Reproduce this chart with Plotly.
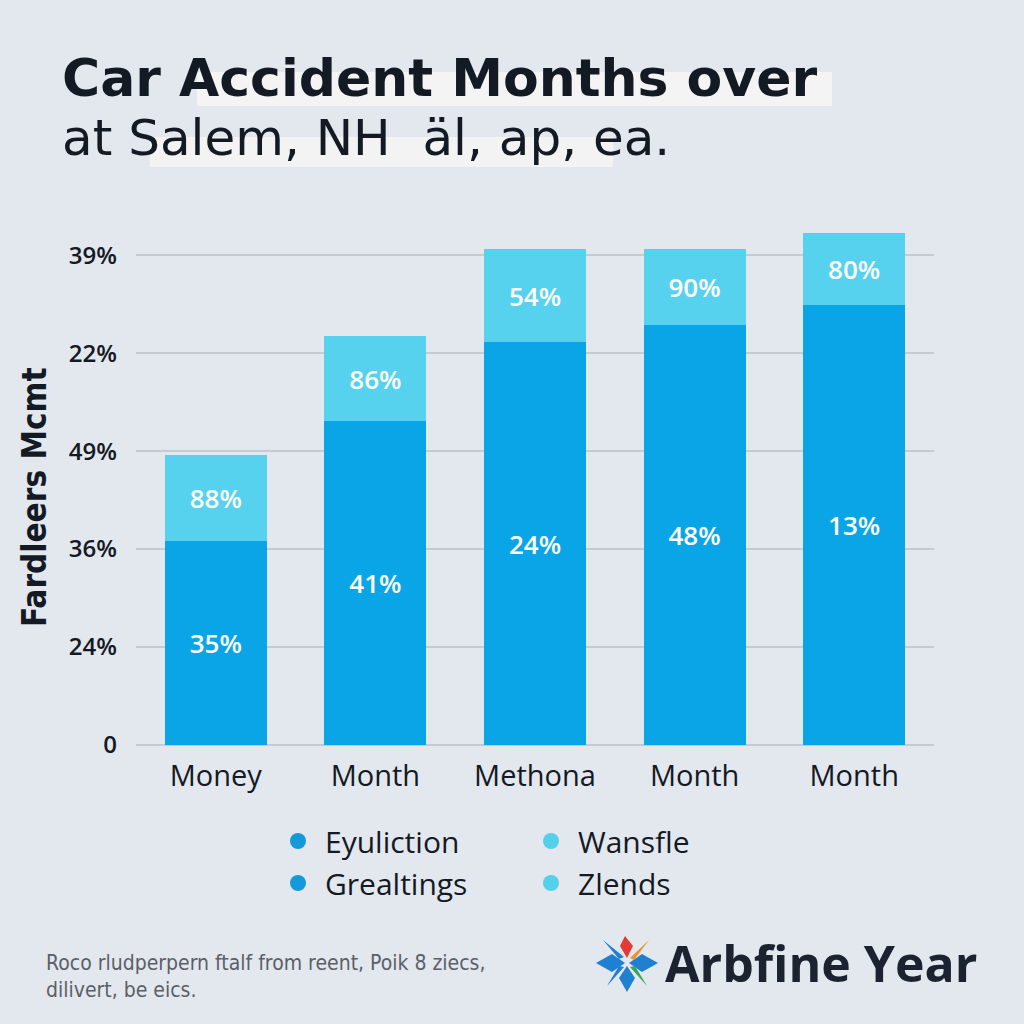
import plotly.graph_objects as go

# ---- data ----
categories = ["Money", "Month", "Methona", "Month", "Month"]
x_pos = [0, 1, 2, 3, 4]
base_values = [2.08, 3.31, 4.11, 4.29, 4.49]
top_values = [0.88, 0.86, 0.95, 0.77, 0.74]
base_labels = ["35%", "41%", "24%", "48%", "13%"]
top_labels = ["88%", "86%", "54%", "90%", "80%"]
y_tickvals = [0, 1, 2, 3, 4, 5]
y_ticktext = ["0", "24%", "36%", "49%", "22%", "39%"]
legend_left = ["Eyuliction", "Grealtings"]
legend_right = ["Wansfle", "Zlends"]

DARK = "#0aa5e6"
LIGHT = "#56d2ef"
BG = "#e3e7ee"
TXT = "#141a24"
FONT = "Open Sans"
WIDE = "DejaVu Sans"
COND = "DejaVu Sans Condensed, Roboto"

W, H = 1024, 1024
ML, MR, MT, MB = 136, 90, 216, 279
PW = W - ML - MR
PH = H - MT - MB


def px(x):
    return (x - ML) / PW


def py(y):
    return (H - MB - y) / PH


fig = go.Figure()
fig.add_trace(go.Bar(
    x=x_pos, y=base_values, marker_color=DARK, width=0.64,
    text=base_labels, textposition="inside", insidetextanchor="middle",
    textfont=dict(color="white", size=26, family=FONT, weight=600),
    showlegend=False, hoverinfo="skip", marker_line_width=0,
))
fig.add_trace(go.Bar(
    x=x_pos, y=top_values, marker_color=LIGHT, width=0.64,
    text=top_labels, textposition="inside", insidetextanchor="middle",
    textfont=dict(color="white", size=26, family=FONT, weight=600),
    showlegend=False, hoverinfo="skip", marker_line_width=0,
))

for name in legend_left:
    fig.add_trace(go.Scatter(x=[None], y=[None], mode="markers", name=name,
                             marker=dict(color="#1699d9", size=22, symbol="circle"),
                             legend="legend"))
for name in legend_right:
    fig.add_trace(go.Scatter(x=[None], y=[None], mode="markers", name=name,
                             marker=dict(color="#55d0ea", size=22, symbol="circle"),
                             legend="legend2"))

legend_common = dict(
    bgcolor="rgba(0,0,0,0)", font=dict(size=30, color=TXT, family=FONT),
    orientation="v", itemsizing="trace", yanchor="top", xanchor="left",
    tracegroupgap=0, itemwidth=44, traceorder="normal",
)
fig.update_layout(
    legend=dict(x=px(271), y=py(815), **legend_common),
    legend2=dict(x=px(524), y=py(815), **legend_common),
)

fig.update_layout(
    width=W, height=H, barmode="stack",
    paper_bgcolor=BG, plot_bgcolor=BG,
    margin=dict(l=ML, r=MR, t=MT, b=MB, autoexpand=False),
    font=dict(family=FONT, color=TXT),
    bargap=0.36,
)
fig.update_xaxes(
    range=[-0.5, 4.5], tickvals=x_pos, ticktext=categories,
    tickfont=dict(size=29, color=TXT, family=FONT),
    showgrid=False, zeroline=False, showline=False, ticks="",
    ticklabelstandoff=11,
)
fig.update_yaxes(
    range=[0, 5.4], tickvals=y_tickvals, ticktext=y_ticktext,
    tickfont=dict(size=24, color=TXT, family=FONT, weight=600),
    showgrid=True, gridcolor="#c6cad1", gridwidth=2,
    zeroline=True, zerolinecolor="#c6cad1", zerolinewidth=2,
    ticks="", ticklabelstandoff=18,
)

# y-axis title (placed to match the reference's vertical offset)
fig.add_annotation(text="<b>Fardleers Mcmt</b>", xref="paper", yref="paper",
                   x=px(34), y=py(497), xanchor="center", yanchor="middle", textangle=-90,
                   showarrow=False, font=dict(size=33, color=TXT, family=COND))

# title highlight bands
fig.add_shape(type="rect", xref="paper", yref="paper", x0=px(197), x1=px(832), y0=py(106), y1=py(72),
              fillcolor="rgba(250,248,246,0.75)", line_width=0, layer="below")
fig.add_shape(type="rect", xref="paper", yref="paper", x0=px(150), x1=px(613), y0=py(167), y1=py(137),
              fillcolor="rgba(250,248,246,0.7)", line_width=0, layer="below")

fig.add_annotation(text="<b>Car Accident Months over</b>", xref="paper", yref="paper",
                   x=px(60), y=py(78), xanchor="left", yanchor="middle", showarrow=False,
                   font=dict(size=52, color=TXT, family=WIDE))
fig.add_annotation(text="at Salem, NH  äl, ap, ea.", xref="paper", yref="paper",
                   x=px(60), y=py(138), xanchor="left", yanchor="middle", showarrow=False,
                   font=dict(size=50, color=TXT, family=WIDE))

fig.add_annotation(text="Roco rludperpern ftalf from reent, Poik 8 ziecs,<br>dilivert, be eics.",
                   xref="paper", yref="paper", x=px(44), y=py(976), xanchor="left", yanchor="middle",
                   showarrow=False, align="left",
                   font=dict(size=21, color="#5a5f68", family=COND))
fig.add_annotation(text="<b>Arbfine Year</b>", xref="paper", yref="paper",
                   x=px(663), y=py(963), xanchor="left", yanchor="middle", showarrow=False,
                   font=dict(size=50, color="#1c2230", family=FONT))

# logo petals
def poly(points, color):
    d = "M " + " L ".join(f"{px(a)},{py(b)}" for a, b in points) + " Z"
    fig.add_shape(type="path", xref="paper", yref="paper", path=d,
                  fillcolor=color, line_width=0)

cx, cy = 627, 963
poly([(596, cy), (612, cy - 9), (625, cy), (612, cy + 9)], "#1f7fd0")
poly([(629, cy), (642, cy - 9), (658, cy), (642, cy + 9)], "#1f7fd0")
poly([(cx, 966), (cx + 8, 978), (cx, 992), (cx - 8, 978)], "#1f7fd0")
poly([(cx, 958), (cx - 7, 946), (cx - 2, 936), (cx + 6, 946)], "#e53935")
poly([(cx - 24, 940), (cx - 3, 957), (cx - 8, 959)], "#1f7fd0")
poly([(cx + 3, 958), (cx + 22, 940), (cx + 7, 960)], "#f2922a")
poly([(cx + 3, 967), (cx + 20, 986), (cx + 8, 966)], "#3aa55a")
poly([(cx - 3, 967), (cx - 20, 986), (cx - 8, 966)], "#1f7fd0")

fig.write_html("out.html", config={"displayModeBar": False},
               post_script="document.body.style.margin='0';")
